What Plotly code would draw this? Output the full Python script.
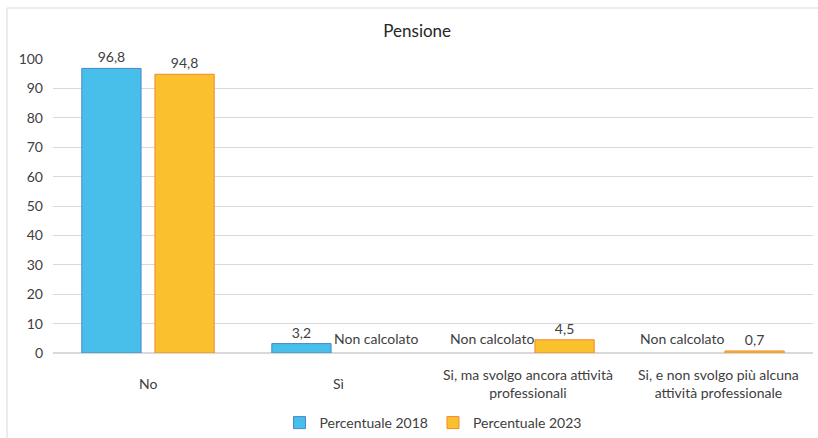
import plotly.graph_objects as go

categories = ["No", "Sì", "Si, ma svolgo ancora attività<br>professionali",
              "Si, e non svolgo più alcuna<br>attività professionale"]
values_2018 = [96.8, 3.2, None, None]
values_2023 = [94.8, None, 4.5, 0.7]
series_names = ["Percentuale 2018", "Percentuale 2023"]
missing_label = "Non calcolato"
y_ticks = list(range(0, 101, 10))

font = "Lato, Open Sans, sans-serif"
txtcol = "#404040"

L, R, T, B = 53, 5, 59, 85
PW, PH = 818 - L - R, 438 - T - B


def fmt(v):
    return "" if v is None else f"{v:.1f}".replace(".", ",")


fig = go.Figure()
annotations = []
series = [
    (series_names[0], values_2018, "#47BFEA", "#4A86D0", -36),
    (series_names[1], values_2023, "#FBC02D", "#F08A30", 38),
]
for name, vals, fill, line, shift in series:
    fig.add_trace(go.Bar(
        x=categories, y=vals, name=name, text=[fmt(v) for v in vals],
        textposition="outside", cliponaxis=False, constraintext="none",
        textfont=dict(size=14, color=txtcol, family=font),
        marker=dict(color=fill, line=dict(color=line, width=1)),
    ))
    for c, v in zip(categories, vals):
        if v is None:
            annotations.append(dict(x=c, y=0, xref="x", yref="y", text=missing_label,
                                    showarrow=False, xanchor="center", yanchor="middle",
                                    xshift=shift, yshift=15,
                                    font=dict(size=14, color=txtcol, family=font)))

# category labels drawn as annotations, vertically centred like the original
for c in categories:
    annotations.append(dict(x=c, y=0, xref="x", yref="paper", text=c, showarrow=False,
                            yanchor="middle", xanchor="center", yshift=-30, align="center",
                            font=dict(size=14, color=txtcol, family=font)))

fig.update_layout(
    width=818, height=438,
    paper_bgcolor="white", plot_bgcolor="white",
    margin=dict(l=L, r=R, t=T, b=B, autoexpand=False),
    barmode="group", bargap=0.23, bargroupgap=0.19,
    font=dict(family=font, size=14, color=txtcol),
    title=dict(text="Pensione", x=0.51, xanchor="center", y=1 - 31 / 438, yanchor="middle",
               yref="container", automargin=False,
               font=dict(size=17, color="#262626", family=font)),
    legend=dict(orientation="h", x=0.5, xanchor="center", y=-70 / PH, yanchor="middle",
                font=dict(size=14, color=txtcol, family=font), itemwidth=30,
                bgcolor="rgba(0,0,0,0)", traceorder="normal"),
    showlegend=True,
    annotations=annotations,
    shapes=[dict(type="rect", xref="paper", yref="paper",
                 x0=-(L - 7) / PW, x1=1 + (R + 5) / PW, y0=-(B + 5) / PH, y1=1 + (T - 8) / PH,
                 line=dict(color="#D9D9D9", width=1), fillcolor="rgba(0,0,0,0)", layer="below")],
)
fig.update_yaxes(range=[0, 100], tickvals=y_ticks, showgrid=True, gridcolor="#D9D9D9",
                 zeroline=True, zerolinecolor="#D9D9D9", showline=False, automargin=False,
                 tickfont=dict(size=14, color=txtcol), ticks="", ticklen=0,
                 ticklabelstandoff=9)
fig.update_xaxes(showline=False, ticks="", showticklabels=False, automargin=False)

fig.write_html("out.html", config={"displayModeBar": False},
               post_script="document.body.style.margin='0';")
